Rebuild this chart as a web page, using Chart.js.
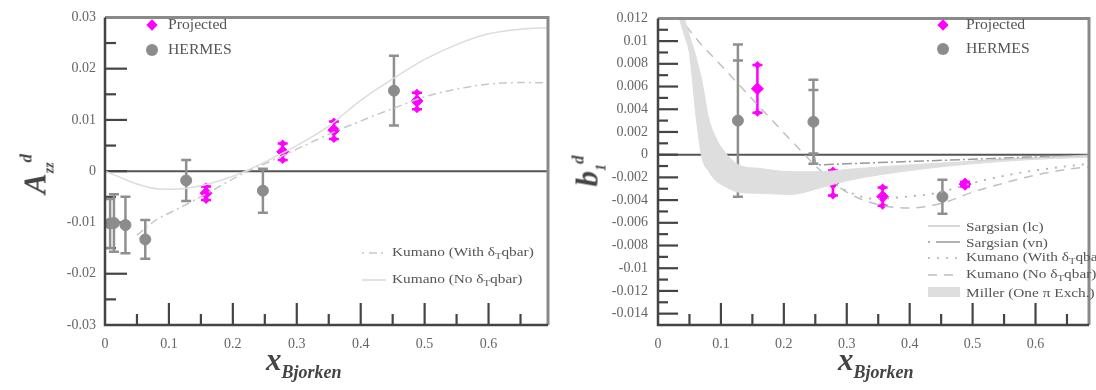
<!DOCTYPE html>
<html>
<head>
<meta charset="utf-8">
<script src="https://cdn.jsdelivr.net/npm/chart.js@4.4.0/dist/chart.umd.min.js"></script>
<style>
body{margin:0;background:#fff;width:1096px;height:390px;overflow:hidden;position:relative;font-family:"Liberation Serif","DejaVu Serif",serif;color:#555}
canvas{position:absolute;top:0}
#cA{left:0}
#cB{left:560px}
.t{position:absolute;white-space:nowrap;line-height:1;font-size:14px;transform:translateY(-50%) scaleX(1.12);transform-origin:left center}
.t.sm{font-size:13px;transform:translateY(-50%) scaleX(1.18)}
.t sub{font-size:9px;vertical-align:-3px}
.dia{position:absolute;width:8px;height:8px;background:#f0f;transform:translate(-50%,-50%) rotate(45deg)}
.dot{position:absolute;width:12px;height:12px;border-radius:50%;background:#8c8c8c;transform:translate(-50%,-50%)}
.smp{position:absolute;transform:translateY(-50%)}
.xt{position:absolute;font-weight:bold;font-style:italic;color:#444;white-space:nowrap;line-height:1}
.xt .m{font-size:31px}
.xt .s{font-size:18px;position:relative;top:8px}
.yt{position:absolute;font-weight:bold;font-style:italic;color:#444;white-space:nowrap;line-height:1;transform:translate(-50%,-50%) rotate(-90deg)}
.yt .m{font-size:31px}
.yt .s{font-size:14px;position:relative;top:8px}
.yt .p{font-size:17px;position:relative;top:-14px}
</style>
</head>
<body>
<canvas id="cA" width="560" height="390"></canvas>
<canvas id="cB" width="536" height="390"></canvas>

<!-- left panel texts -->
<div class="dia" style="left:152px;top:25px"></div><div class="t" style="left:168px;top:25px">Projected</div>
<div class="dot" style="left:152px;top:50px"></div><div class="t" style="left:168px;top:50px">HERMES</div>
<svg class="smp" style="left:362px;top:253px" width="24" height="4"><line x1="0" y1="2" x2="24" y2="2" stroke="#c8c8c8" stroke-width="1.5" stroke-dasharray="2,5,8,4"/></svg>
<div class="t sm" style="left:392px;top:253px">Kumano (With δ<sub>T</sub>qbar)</div>
<svg class="smp" style="left:362px;top:280px" width="24" height="4"><line x1="0" y1="2" x2="24" y2="2" stroke="#d8d8d8" stroke-width="1.5"/></svg>
<div class="t sm" style="left:392px;top:280px">Kumano (No δ<sub>T</sub>qbar)</div>
<div class="xt" style="left:266px;top:344px"><span class="m">x</span><span class="s">Bjorken</span></div>
<div class="yt" style="left:35px;top:174px"><span class="m">A</span><span class="s">zz</span><span class="p">d</span></div>

<!-- right panel texts -->
<div class="dia" style="left:943px;top:25px"></div><div class="t" style="left:966px;top:25px">Projected</div>
<div class="dot" style="left:943px;top:49px"></div><div class="t" style="left:966px;top:49px">HERMES</div>
<svg class="smp" style="left:928px;top:226px" width="32" height="4"><line x1="0" y1="2" x2="32" y2="2" stroke="#c8c8c8" stroke-width="1.5"/></svg>
<div class="t sm" style="left:966px;top:226px">Sargsian (lc)</div>
<svg class="smp" style="left:928px;top:242px" width="32" height="4"><line x1="0" y1="2" x2="32" y2="2" stroke="#999" stroke-width="1.5" stroke-dasharray="2,6,24,0"/></svg>
<div class="t sm" style="left:966px;top:242px">Sargsian (vn)</div>
<svg class="smp" style="left:928px;top:258px" width="32" height="4"><line x1="0" y1="2" x2="32" y2="2" stroke="#b0b0b0" stroke-width="1.5" stroke-dasharray="2,7"/></svg>
<div class="t sm" style="left:966px;top:258px">Kumano (With δ<sub>T</sub>qbar)</div>
<svg class="smp" style="left:928px;top:275px" width="32" height="4"><line x1="0" y1="2" x2="32" y2="2" stroke="#c0c0c0" stroke-width="1.5" stroke-dasharray="9,7"/></svg>
<div class="t sm" style="left:966px;top:275px">Kumano (No δ<sub>T</sub>qbar)</div>
<svg class="smp" style="left:928px;top:292px" width="32" height="10"><rect x="0" y="0" width="32" height="10" fill="#dedede"/></svg>
<div class="t sm" style="left:966px;top:292px">Miller (One π Exch.)</div>
<div class="xt" style="left:838px;top:344px"><span class="m">x</span><span class="s">Bjorken</span></div>
<div class="yt" style="left:587px;top:171px"><span class="m">b</span><span class="s">1</span><span class="p">d</span></div>

<script>
// ---- left panel: A_zz^d ----
const xTicksA=[0,0.1,0.2,0.3,0.4,0.5,0.6];
const xLabelsA=['0','0.1','0.2','0.3','0.4','0.5','0.6'];
const yTicksA=[-0.03,-0.02,-0.01,0,0.01,0.02,0.03];
const yLabelsA=['-0.03','-0.02','-0.01','0','0.01','0.02','0.03'];

const hermesX_A=[0.008,0.014,0.032,0.063,0.127,0.247,0.452];
const hermesY_A=[-0.0102,-0.0101,-0.0105,-0.0133,-0.0018,-0.0038,0.0157];
const hermesErr_A=[0.0048,0.0056,0.0055,0.0038,0.004,0.0043,0.0068];

const projX_A=[0.158,0.278,0.358,0.488];
const projY_A=[-0.0043,0.0038,0.0080,0.0137];
const projErr_A=[0.0013,0.0016,0.0017,0.0016];

const kumWithX_A=[0.05,0.08,0.1,0.13,0.16,0.2,0.23,0.26,0.3,0.35,0.4,0.45,0.5,0.55,0.6,0.65,0.7];
const kumWithY_A=[-0.0125,-0.0095,-0.0082,-0.0063,-0.0043,-0.0015,0.0004,0.002,0.0043,0.0072,0.0098,0.0122,0.0145,0.016,0.017,0.0173,0.0172];
const kumNoX_A=[0,0.02,0.05,0.08,0.11,0.14,0.17,0.2,0.23,0.26,0.3,0.35,0.4,0.45,0.5,0.55,0.6,0.65,0.7];
const kumNoY_A=[0,-0.001,-0.0025,-0.0034,-0.0035,-0.0031,-0.0022,-0.001,0.0006,0.0024,0.005,0.0088,0.0138,0.018,0.0218,0.0247,0.0268,0.0277,0.028];

// ---- right panel: b_1^d ----
const xTicksB=[0,0.1,0.2,0.3,0.4,0.5,0.6];
const xLabelsB=['0','0.1','0.2','0.3','0.4','0.5','0.6'];
const yTicksB=[-0.014,-0.012,-0.01,-0.008,-0.006,-0.004,-0.002,0,0.002,0.004,0.006,0.008,0.01,0.012];
const yLabelsB=['-0.014','-0.012','-0.01','-0.008','-0.006','-0.004','-0.002','0','0.002','0.004','0.006','0.008','0.01','0.012'];

const hermesX_B=[0.127,0.247,0.452];
const hermesY_B=[0.0030,0.0029,-0.0037];
const hermesErr_B=[0.0067,0.0037,0.0015];
const hermesStat_B=[0.0053,0.0028,0];

const projX_B=[0.158,0.278,0.357,0.488];
const projY_B=[0.0058,-0.0025,-0.0037,-0.0026];
const projErr_B=[0.0021,0.0011,0.0008,0.0002];

const millerX_B=[0.034,0.042,0.05,0.061,0.07,0.081,0.092,0.1,0.128,0.16,0.21,0.26,0.3,0.4,0.5,0.6,0.7];
const millerHi_B=[0.0135,0.012,0.0105,0.0085,0.0064,0.0031,0.0015,0.0007,-0.0009,-0.0012,-0.0015,-0.0015,-0.0013,-0.0009,-0.0006,-0.0004,-0.0002];
const millerLo_B=[0.012,0.0105,0.0089,0.0031,-0.0003,-0.0015,-0.0023,-0.0026,-0.0033,-0.0034,-0.0035,-0.0029,-0.0023,-0.0014,-0.0008,-0.0004,-0.0001];
const kumNoX_B=[0.03,0.055,0.108,0.17,0.233,0.26,0.3,0.35,0.4,0.45,0.5,0.55,0.6,0.65,0.7];
const kumNoY_B=[0.0125,0.0106,0.0074,0.0037,0,-0.0015,-0.0033,-0.0044,-0.0047,-0.0043,-0.0033,-0.0025,-0.0018,-0.0013,-0.001];
const kumWithX_B=[0.26,0.3,0.347,0.394,0.44,0.514,0.586,0.7];
const kumWithY_B=[-0.0017,-0.0032,-0.0039,-0.0037,-0.0034,-0.0023,-0.0015,-0.0007];
const sargLcX_B=[0.25,0.3,0.35,0.4,0.5,0.6,0.7];
const sargLcY_B=[-0.0026,-0.0021,-0.0016,-0.0012,-0.0006,-0.0003,0];
const sargVnX_B=[0.248,0.252,0.3,0.4,0.5,0.6,0.7];
const sargVnY_B=[0,-0.0009,-0.0008,-0.0006,-0.0004,-0.0002,-0.0001];

const pts=(xs,ys)=>xs.map((x,i)=>({x,y:ys[i]}));
const FONT={family:'"Liberation Serif", serif',size:14};

// inward ticks, zero line, frame
const frame={
  id:'frame',
  beforeDatasetsDraw(chart,args,o){
    const {ctx,chartArea:a,scales:{x,y}}=chart;
    ctx.save();
    ctx.strokeStyle='#555';ctx.lineWidth=2;
    const y0=y.getPixelForValue(0);
    ctx.beginPath();ctx.moveTo(a.left,y0);ctx.lineTo(a.right,y0);ctx.stroke();
    ctx.strokeStyle='#444';ctx.lineWidth=2.2;
    const ny=Math.round((y.max-y.min)/o.yMinor);
    for(let i=1;i<ny;i++){
      const v=y.min+i*o.yMinor,py=y.getPixelForValue(v);
      const major=Math.abs(v/o.yMajor-Math.round(v/o.yMajor))<1e-6;
      ctx.beginPath();ctx.moveTo(a.left,py);ctx.lineTo(a.left+(major?o.len:o.len/2),py);ctx.stroke();
    }
    const nx=Math.round((o.xEnd-x.min)/o.xMinor);
    for(let i=1;i<=nx;i++){
      const v=x.min+i*o.xMinor,px=x.getPixelForValue(v);
      if(px>a.right-2)break;
      const major=i%2===0;
      ctx.beginPath();ctx.moveTo(px,a.bottom);ctx.lineTo(px,a.bottom-(major?22:11));ctx.stroke();
    }
    ctx.restore();
  },
  afterDatasetsDraw(chart){
    const {ctx,chartArea:a}=chart;
    ctx.save();
    ctx.strokeStyle='#8a8a8a';ctx.lineWidth=3;
    ctx.beginPath();ctx.moveTo(a.left,a.top);ctx.lineTo(a.right,a.top);ctx.lineTo(a.right,a.bottom);ctx.stroke();
    ctx.strokeStyle='#444';ctx.lineWidth=2.5;
    ctx.beginPath();ctx.moveTo(a.left,a.top);ctx.lineTo(a.left,a.bottom);ctx.lineTo(a.right,a.bottom);ctx.stroke();
    ctx.restore();
  }
};

function diamond(ctx,x,y,r){ctx.beginPath();ctx.moveTo(x,y-r);ctx.lineTo(x+r,y);ctx.lineTo(x,y+r);ctx.lineTo(x-r,y);ctx.closePath();ctx.fill();}

const errbars={
  id:'errbars',
  beforeDatasetDraw(chart,args){
    const ds=chart.data.datasets[args.index];
    if(!ds.err)return;
    const {ctx,scales:{x,y}}=chart;
    ctx.save();
    ctx.strokeStyle=ds.errColor;ctx.fillStyle=ds.errColor;ctx.lineWidth=ds.errWidth;
    ds.data.forEach((p,i)=>{
      const px=x.getPixelForValue(p.x),e=ds.err[i],c=ds.cap;
      const t=y.getPixelForValue(p.y+e),b=y.getPixelForValue(p.y-e);
      ctx.beginPath();ctx.moveTo(px,t);ctx.lineTo(px,b);
      ctx.moveTo(px-c,t);ctx.lineTo(px+c,t);ctx.moveTo(px-c,b);ctx.lineTo(px+c,b);ctx.stroke();
      if(ds.stat&&ds.stat[i]){
        const ti=y.getPixelForValue(p.y+ds.stat[i]),bi=y.getPixelForValue(p.y-ds.stat[i]);
        ctx.beginPath();ctx.moveTo(px-c,ti);ctx.lineTo(px+c,ti);ctx.moveTo(px-c,bi);ctx.lineTo(px+c,bi);ctx.stroke();
      }
      if(ds.tipDiamond){diamond(ctx,px,t,4);diamond(ctx,px,b,4);}
    });
    ctx.restore();
  }
};

function curve(data,color,dash,width){
  return {data,borderColor:color,borderDash:dash,borderWidth:width||1.5,pointRadius:0,fill:false,cubicInterpolationMode:'monotone'};
}

function makeChart(id,cfg){
  return new Chart(document.getElementById(id),{
    type:'line',
    data:{datasets:cfg.datasets},
    options:{
      responsive:false,animation:false,
      layout:{padding:{left:0,top:14,right:cfg.padRight,bottom:0}},
      plugins:{legend:{display:false},tooltip:{enabled:false},frame:cfg.frame},
      scales:{
        x:{type:'linear',min:0,max:cfg.xMax,grid:{display:false,drawTicks:false},border:{display:false},
          ticks:{font:FONT,color:'#666',padding:11,maxRotation:0,callback:(v,i)=>cfg.xLabels[i]},
          afterBuildTicks:s=>{s.ticks=cfg.xTicks.map(v=>({value:v}));},
          afterFit:s=>{s.height=65;}},
        y:{type:'linear',min:cfg.yMin,max:cfg.yMax,grid:{display:false,drawTicks:false},border:{display:false},
          ticks:{font:FONT,color:'#666',padding:cfg.yPad,callback:(v,i)=>cfg.yLabels[i]},
          afterBuildTicks:s=>{s.ticks=cfg.yTicks.map(v=>({value:v}));},
          afterFit:s=>{s.width=cfg.yWidth;}}
      }
    },
    plugins:[frame,errbars]
  });
}

makeChart('cA',{
  xMax:0.693,yMin:-0.03,yMax:0.03,padRight:12,yWidth:105,yPad:9,
  xTicks:xTicksA,xLabels:xLabelsA,yTicks:yTicksA,yLabels:yLabelsA,
  frame:{yMinor:0.005,yMajor:0.01,xMinor:0.05,xEnd:0.7,len:22},
  datasets:[
    curve(pts(kumNoX_A,kumNoY_A),'#dcdcdc',[],1.5),
    curve(pts(kumWithX_A,kumWithY_A),'#c8c8c8',[8,4,2,4],1.5),
    {label:'HERMES',data:pts(hermesX_A,hermesY_A),showLine:false,pointStyle:'circle',pointRadius:5.5,
      backgroundColor:'#8c8c8c',borderColor:'#8c8c8c',err:hermesErr_A,errColor:'#8f8f8f',errWidth:2.5,cap:5},
    {label:'Projected',data:pts(projX_A,projY_A),showLine:false,pointStyle:'rectRot',pointRadius:6,
      backgroundColor:'#ff00ff',borderColor:'#ff00ff',err:projErr_A,errColor:'#ff00ff',errWidth:2.5,cap:5,tipDiamond:true}
  ]
});

makeChart('cB',{
  xMax:0.685,yMin:-0.015,yMax:0.012,padRight:0,yWidth:98,yPad:10,
  xTicks:xTicksB,xLabels:xLabelsB,yTicks:yTicksB,yLabels:yLabelsB,
  frame:{yMinor:0.001,yMajor:0.002,xMinor:0.05,xEnd:0.7,len:20},
  datasets:[
    {data:pts(millerX_B,millerHi_B),borderColor:'#dedede',borderWidth:1,pointRadius:0,fill:'+1',backgroundColor:'#dedede',cubicInterpolationMode:'monotone'},
    {data:pts(millerX_B,millerLo_B),borderColor:'#dedede',borderWidth:1,pointRadius:0,fill:false,cubicInterpolationMode:'monotone'},
    curve(pts(sargLcX_B,sargLcY_B),'#c8c8c8',[],1.5),
    curve(pts(sargVnX_B,sargVnY_B),'#999',[10,3,2,3],1.5),
    curve(pts(kumWithX_B,kumWithY_B),'#b0b0b0',[2,7],1.8),
    curve(pts(kumNoX_B,kumNoY_B),'#c0c0c0',[9,7],1.5),
    {label:'HERMES',data:pts(hermesX_B,hermesY_B),showLine:false,pointStyle:'circle',pointRadius:5.5,
      backgroundColor:'#8c8c8c',borderColor:'#8c8c8c',err:hermesErr_B,stat:hermesStat_B,errColor:'#8f8f8f',errWidth:2.5,cap:5},
    {label:'Projected',data:pts(projX_B,projY_B),showLine:false,pointStyle:'rectRot',pointRadius:6,
      backgroundColor:'#ff00ff',borderColor:'#ff00ff',err:projErr_B,errColor:'#ff00ff',errWidth:2.5,cap:5,tipDiamond:true}
  ]
});
</script>
</body>
</html>
